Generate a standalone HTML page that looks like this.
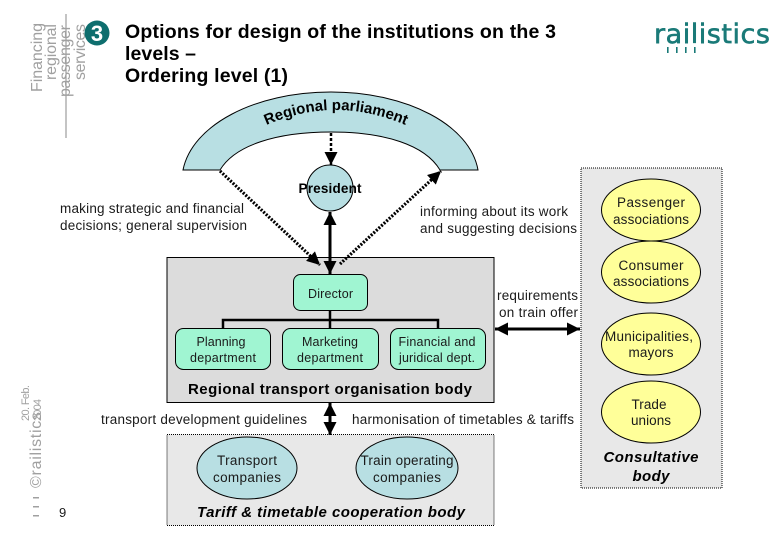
<!DOCTYPE html>
<html><head><meta charset="utf-8"><style>
html,body{margin:0;padding:0;background:#fff}
svg{display:block}
text{font-family:"Liberation Sans",sans-serif;fill:#1a1a1a}
.t{font-size:13.5px;text-anchor:middle}
.d{font-size:12.5px;text-anchor:middle}
.l{font-size:13.5px}
.b{font-weight:bold;fill:#000}
.g{fill:#a0a0a0}
</style></head><body>
<svg width="780" height="540" viewBox="0 0 780 540" xmlns="http://www.w3.org/2000/svg">
<defs>
<marker id="a" viewBox="0 0 10 10" refX="10" refY="5" markerWidth="13" markerHeight="13" markerUnits="userSpaceOnUse" orient="auto-start-reverse"><path d="M0 0L10 5L0 10Z" fill="#000"/></marker>
<path id="arc" d="M260 128 Q335 92 412 128" fill="none"/>
</defs>

<!-- header sidebar -->
<line x1="66" y1="14" x2="66" y2="138" stroke="#8a8a8a" stroke-width="1"/>
<text class="g" transform="translate(42,23) rotate(-90)" text-anchor="end" font-size="16" textLength="69">Financing</text>
<text class="g" transform="translate(56,24) rotate(-90)" text-anchor="end" font-size="16" textLength="56">regional</text>
<text class="g" transform="translate(70,25) rotate(-90)" text-anchor="end" font-size="16" textLength="72">passenger</text>
<text class="g" transform="translate(85,24) rotate(-90)" text-anchor="end" font-size="16" textLength="56">services</text>
<circle cx="97" cy="33" r="12.5" fill="#0e6e6e"/>
<text x="97" y="41" text-anchor="middle" font-size="22" font-weight="bold" style="fill:#fff">3</text>

<text class="b" x="125" y="38" font-size="19.5" textLength="431">Options for design of the institutions on the 3</text>
<text class="b" x="125" y="60" font-size="19.5" textLength="71">levels –</text>
<text class="b" x="125" y="82" font-size="19.5" textLength="163">Ordering level (1)</text>

<!-- logo -->
<text x="654" y="43" textLength="116" style="fill:#1a7a78;font-family:'DejaVu Sans',sans-serif;font-size:27px;stroke:#1a7a78;stroke-width:.6">railistics</text>
<g fill="#1a7a78"><rect x="667" y="47" width="1.6" height="6"/><rect x="676" y="47" width="1.6" height="6"/><rect x="685" y="47" width="1.6" height="6"/><rect x="694" y="47" width="1.6" height="6"/></g>

<!-- parliament arc -->
<path d="M183 170 C192 125 255 92 331 92 C407 92 470 125 478 170 L440 170 C425 145 385 132 331 132 C277 132 235 145 220 170 Z" fill="#b8dfe3" stroke="#000" stroke-width="1"/>
<text class="b" font-size="15"><textPath href="#arc" startOffset="50%" text-anchor="middle">Regional parliament</textPath></text>

<!-- consultative -->
<rect x="581" y="168" width="141" height="320" fill="#e8e8e8" stroke="#000" stroke-width="1" stroke-dasharray="1 1"/>
<g fill="#ffff99" stroke="#000" stroke-width="1">
<ellipse cx="651" cy="210" rx="49.500" ry="31"/>
<ellipse cx="651" cy="272" rx="49.500" ry="31"/>
<ellipse cx="651" cy="344" rx="49.500" ry="31"/>
<ellipse cx="651" cy="412" rx="49.500" ry="31"/>
</g>
<text class="t" x="651" y="207" textLength="68">Passenger</text>
<text class="t" x="651" y="224" textLength="76">associations</text>
<text class="t" x="651" y="270" textLength="65">Consumer</text>
<text class="t" x="651" y="286" textLength="76">associations</text>
<text class="t" x="649" y="341" textLength="88">Municipalities,</text>
<text class="t" x="651" y="357" textLength="45">mayors</text>
<text class="t" x="649" y="409" textLength="35">Trade</text>
<text class="t" x="651" y="425" textLength="40">unions</text>
<text class="b" x="651" y="462" text-anchor="middle" font-size="15" font-style="italic" textLength="95">Consultative</text>
<text class="b" x="651" y="481" text-anchor="middle" font-size="15" font-style="italic" textLength="37">body</text>

<!-- regional body -->
<rect x="167" y="257.500" width="327" height="145" fill="#dcdcdc" stroke="#000" stroke-width="1"/>
<path d="M223 328V320H438V328M330 311V328" fill="none" stroke="#000" stroke-width="2.500"/>
<g fill="#a0f5d2" stroke="#000" stroke-width="1">
<rect x="293.500" y="274.500" width="74" height="36" rx="7"/>
<rect x="175.500" y="328.500" width="95" height="41" rx="8"/>
<rect x="282.500" y="328.500" width="96" height="41" rx="8"/>
<rect x="390.500" y="328.500" width="95" height="41" rx="8"/>
</g>
<text class="d" x="330.500" y="298" textLength="45">Director</text>
<text class="d" x="221" y="346" textLength="49">Planning</text>
<text class="d" x="223" y="362" textLength="66">department</text>
<text class="d" x="330" y="346" textLength="56">Marketing</text>
<text class="d" x="330" y="362" textLength="66">department</text>
<text class="d" x="437" y="346" textLength="77">Financial and</text>
<text class="d" x="437" y="362" textLength="76">juridical dept.</text>
<text class="b" x="330" y="394" text-anchor="middle" font-size="15" textLength="284">Regional transport organisation body</text>

<!-- tariff body -->
<rect x="167" y="434.500" width="327" height="91" fill="#e8e8e8" stroke="#000" stroke-width="1" stroke-dasharray="1 1"/>
<g fill="#b8dfe3" stroke="#000" stroke-width="1">
<ellipse cx="247" cy="468" rx="50" ry="31"/>
<ellipse cx="407" cy="468" rx="51" ry="31"/>
</g>
<text class="t" x="247" y="465" textLength="60">Transport</text>
<text class="t" x="247" y="482" textLength="68">companies</text>
<text class="t" x="407" y="465" textLength="93">Train operating</text>
<text class="t" x="407" y="482" textLength="68">companies</text>
<text class="b" x="331" y="517" text-anchor="middle" font-size="15" font-style="italic" textLength="268">Tariff &amp; timetable cooperation body</text>

<!-- president -->
<circle cx="330" cy="188" r="23" fill="#b8dfe3" stroke="#000" stroke-width="1"/>
<text class="b" x="330" y="193" text-anchor="middle" font-size="13.500" textLength="63">President</text>

<!-- arrows -->
<line x1="331" y1="133" x2="331" y2="165" stroke="#000" stroke-width="2.500" stroke-dasharray="3 2" marker-end="url(#a)"/>
<line x1="330" y1="212" x2="330" y2="274" stroke="#000" stroke-width="3" marker-start="url(#a)" marker-end="url(#a)"/>
<line x1="220" y1="171" x2="320" y2="265" stroke="#000" stroke-width="3.200" stroke-dasharray="2 1.500" marker-end="url(#a)"/>
<line x1="340" y1="264" x2="441" y2="171" stroke="#000" stroke-width="3.200" stroke-dasharray="2 1.500" marker-end="url(#a)"/>
<line x1="495" y1="329" x2="580" y2="329" stroke="#000" stroke-width="3" marker-start="url(#a)" marker-end="url(#a)"/>
<line x1="330" y1="403" x2="330" y2="435" stroke="#000" stroke-width="3" marker-start="url(#a)" marker-end="url(#a)"/>

<!-- labels -->
<text class="l" x="60" y="213" textLength="184">making strategic and financial</text>
<text class="l" x="60" y="230" textLength="187">decisions; general supervision</text>
<text class="l" x="420" y="216" textLength="148">informing about its work</text>
<text class="l" x="420" y="233" textLength="157">and suggesting decisions</text>
<text class="l" x="497" y="300" textLength="81">requirements</text>
<text class="l" x="499" y="317" textLength="79">on train offer</text>
<text class="l" x="101" y="424" textLength="206">transport development guidelines</text>
<text class="l" x="352" y="424" textLength="222">harmonisation of timetables &amp; tariffs</text>

<!-- footer sidebar -->
<text class="g" transform="translate(29,421) rotate(-90)" font-size="11" textLength="36">20. Feb.</text>
<text class="g" transform="translate(41,421) rotate(-90)" font-size="11" textLength="22">2004</text>
<text class="g" transform="translate(41,488) rotate(-90)" font-size="16" textLength="76">©railistics</text>
<g fill="#a0a0a0"><rect x="33" y="497" width="6" height="1.500"/><rect x="33" y="506" width="6" height="1.500"/><rect x="33" y="515" width="6" height="1.500"/></g>
<text x="59" y="517" font-size="13">9</text>
</svg>
</body></html>
